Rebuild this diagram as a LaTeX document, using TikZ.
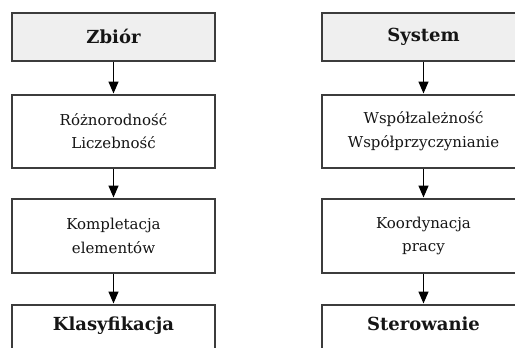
\documentclass[tikz,border=0pt]{standalone}
\usepackage{fontspec}
\setmainfont{DejaVu Serif}
\usetikzlibrary{arrows.meta}
\definecolor{edge}{HTML}{3C3C3C}
\definecolor{headfill}{HTML}{EFEFEF}
\definecolor{ink}{HTML}{151515}
\tikzset{
  x=1pt, y=-1pt,
  box/.style={draw=edge, line width=1.5pt, text=ink, align=center,
    minimum width=203pt, inner sep=0pt, anchor=north},
  headbox/.style={box, fill=headfill, minimum height=48pt,
    font=\fontsize{18}{21}\selectfont\bfseries},
  bodybox/.style={box, fill=white, minimum height=73pt,
    font=\fontsize{15}{23.5}\selectfont},
  tailbox/.style={box, fill=white, minimum height=80pt, text depth=42pt,
    font=\fontsize{18}{21}\selectfont\bfseries},
  flow/.style={draw=black, line width=1.4pt,
    -{Triangle[width=10pt,length=12pt]}, shorten >=0.5pt}
}
\begin{document}
\begin{tikzpicture}
\useasboundingbox (0,0) rectangle (515,348);
\clip (0,0) rectangle (515,348);
% left column
\node[headbox] (z1) at (113.5,12) {Zbiór};
\node[bodybox] (z2) at (113.5,94) {Różnorodność\\Liczebność};
\node[bodybox, minimum height=74pt] (z3) at (113.5,198) {Kompletacja\\elementów};
\node[tailbox] (z4) at (113.5,304) {Klasyfikacja};
% right column
\node[headbox] (s1) at (423.5,12) {System};
\node[bodybox] (s2) at (423.5,94) {Współzależność\\Współprzyczynianie};
\node[bodybox, minimum height=74pt] (s3) at (423.5,198) {Koordynacja\\pracy};
\node[tailbox] (s4) at (423.5,304) {Sterowanie};
% connectors
\foreach \a/\b in {z1/z2, z2/z3, z3/z4, s1/s2, s2/s3, s3/s4}
  \draw[flow] (\a.south) -- (\b.north);
\end{tikzpicture}
\end{document}
